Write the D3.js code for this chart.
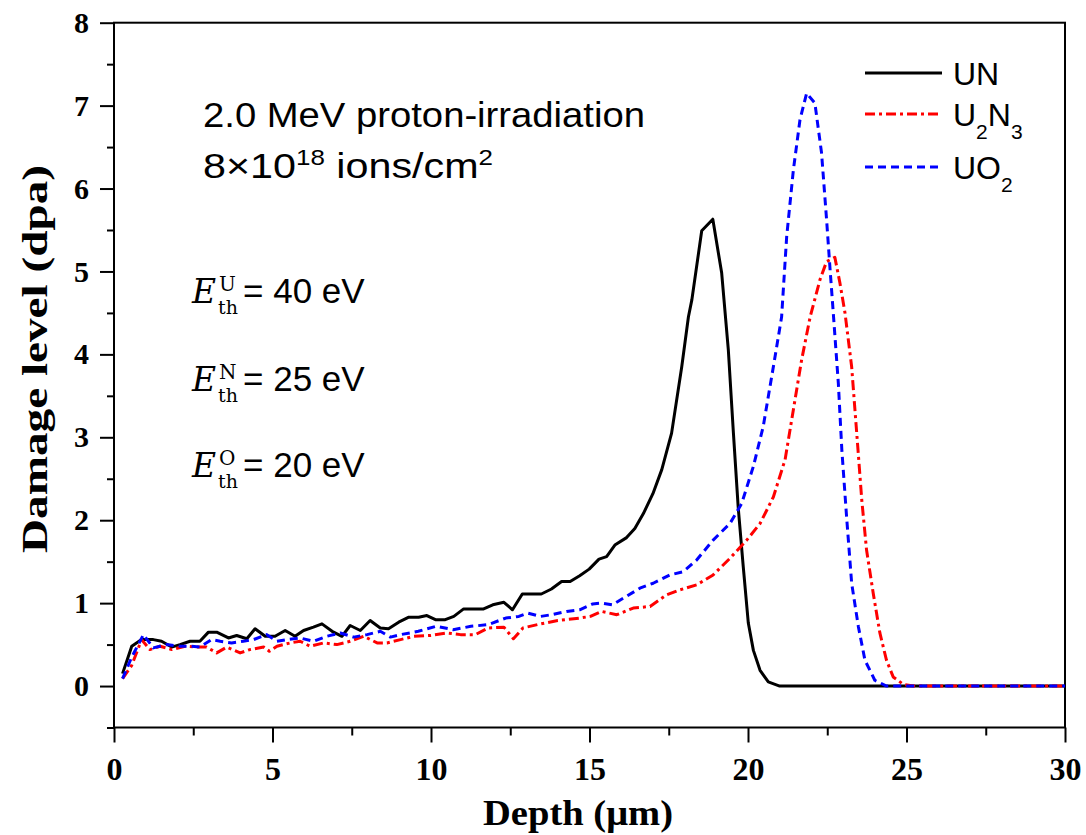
<html lang="en">
<head>
<meta charset="utf-8">
<title>Damage level vs depth</title>
<script src="https://cdn.jsdelivr.net/npm/d3@7"></script>
<style>
  body { margin: 0; background: #fff; }
</style>
</head>
<body></body>
<script type="text/javascript">

/*********************************************************************/
// Data

var seriesNames = ["UN", "U2N3", "UO2"];

var depthUN = [0.27,0.56,0.87,1.24,1.5,1.82,2.08,2.4,2.71,2.98,3.24,3.61,3.87,4.19,4.45,4.77,5.08,5.4,5.71,5.98,
	6.29,6.56,6.88,7.19,7.45,7.77,8.08,8.4,8.66,8.98,9.3,9.61,9.87,10.14,10.45,10.72,11.03,11.35,11.66,11.95,
	12.3,12.57,12.88,13.18,13.48,13.8,14.12,14.39,14.69,14.99,15.3,15.54,15.8,16.17,16.43,16.7,17.0,17.28,17.59,17.91,
	18.12,18.23,18.54,18.89,19.17,19.38,19.54,19.69,19.85,20.01,20.17,20.38,20.64,21.0,30];
var dpaUN = [0.15,0.48,0.56,0.56,0.54,0.47,0.5,0.54,0.54,0.65,0.65,0.58,0.61,0.57,0.69,0.6,0.6,0.67,0.6,0.67,
	0.71,0.75,0.66,0.6,0.73,0.67,0.79,0.7,0.69,0.77,0.83,0.83,0.85,0.8,0.8,0.84,0.93,0.93,0.93,0.98,
	1.01,0.92,1.11,1.11,1.11,1.17,1.26,1.26,1.33,1.41,1.53,1.56,1.70,1.79,1.90,2.08,2.32,2.61,3.05,3.85,
	4.45,4.66,5.49,5.63,4.98,4.05,3.05,2.16,1.44,0.76,0.43,0.19,0.05,0.0,0.0];

var depthU2N3 = [0.27,0.56,0.87,1.13,1.45,1.82,2.24,2.61,2.92,3.24,3.56,3.98,4.29,4.72,4.9,5.14,5.56,5.87,6.19,6.61,
	7.03,7.45,7.88,8.3,8.61,9.04,9.46,9.98,10.5,10.93,11.4,11.8,12.3,12.6,12.9,13.46,14.0,14.69,15.03,15.38,
	15.86,16.38,16.91,17.43,17.85,18.38,18.9,19.43,19.96,20.38,20.8,21.17,21.43,21.69,21.96,22.27,22.48,22.74,22.9,23.06,
	23.27,23.43,23.59,23.74,23.95,24.16,24.37,24.58,24.9,25.22,30];
var dpaU2N3 = [0.09,0.25,0.56,0.44,0.48,0.44,0.48,0.47,0.47,0.4,0.47,0.4,0.44,0.47,0.42,0.48,0.52,0.54,0.48,0.52,
	0.5,0.54,0.6,0.52,0.52,0.56,0.6,0.61,0.64,0.62,0.62,0.7,0.71,0.57,0.7,0.75,0.79,0.82,0.84,0.9,
	0.86,0.94,0.96,1.1,1.16,1.22,1.34,1.54,1.76,1.96,2.28,2.73,3.33,3.93,4.45,4.9,5.12,5.17,4.86,4.5,
	3.85,3.05,2.24,1.64,1.12,0.64,0.31,0.11,0.02,0.0,0.0];

var depthUO2 = [0.27,0.56,0.93,1.24,1.66,2.08,2.4,2.71,3.08,3.35,3.71,4.08,4.4,4.82,5.14,5.45,5.87,6.29,6.71,7.14,
	7.56,7.98,8.4,8.72,9.04,9.6,10.16,10.7,11.26,11.8,12.36,12.77,13.05,13.46,13.8,14.28,14.69,15.1,15.38,15.72,
	16.07,16.59,17.01,17.54,17.96,18.38,18.9,19.43,19.8,20.17,20.48,20.8,21.06,21.22,21.43,21.64,21.85,22.11,22.32,22.48,
	22.59,22.69,22.85,22.96,23.11,23.27,23.48,23.69,24.0,24.37,30];
var dpaUO2 = [0.09,0.35,0.62,0.46,0.5,0.48,0.48,0.47,0.56,0.54,0.52,0.54,0.56,0.62,0.54,0.56,0.58,0.54,0.6,0.64,
	0.59,0.62,0.66,0.59,0.62,0.66,0.72,0.68,0.72,0.74,0.82,0.84,0.88,0.84,0.86,0.9,0.92,0.99,1.0,0.98,
	1.06,1.18,1.24,1.34,1.38,1.52,1.76,1.96,2.2,2.65,3.13,3.85,4.45,5.42,6.22,6.83,7.15,7.03,6.43,5.62,
	5.02,4.5,3.65,2.85,2.04,1.24,0.72,0.31,0.07,0.0,0.0];

var xTicks = [0, 5, 10, 15, 20, 25, 30];
var yTicks = [0, 1, 2, 3, 4, 5, 6, 7, 8];
var xMinor = [2.5, 7.5, 12.5, 17.5, 22.5, 27.5];
var yMinor = [-0.5, 0.5, 1.5, 2.5, 3.5, 4.5, 5.5, 6.5, 7.5];

var eAtoms = ["U", "N", "O"];
var eThresholds = [40, 25, 20];

/*********************************************************************/
// Canvas

var width = 1086, height = 835;
var svg = d3.select("body").append("svg")
	.attr("width", width)
	.attr("height", height);

var x = d3.scaleLinear().domain([0, 30]).range([114, 1065]);
var y = d3.scaleLinear().domain([-0.5, 8]).range([727.5, 22.7]);

var serif = "'Liberation Serif','Times New Roman',serif";
var sans = "'Liberation Sans',Arial,Helvetica,sans-serif";

/*********************************************************************/
// Axes

function styleAxis(g){
	g.select(".domain").remove();
	g.selectAll("line").attr("stroke", "#000").attr("stroke-width", 2);
	g.selectAll("text").attr("font-family", serif).attr("font-weight", "bold").attr("fill", "#000");
}

svg.append("g")
	.attr("transform", "translate(0," + y(-0.5) + ")")
	.call(d3.axisBottom(x).tickValues(xTicks).tickFormat(d3.format("d")).tickSize(15).tickPadding(15))
	.call(styleAxis)
	.selectAll("text").attr("font-size", 32);

svg.append("g")
	.attr("transform", "translate(0," + y(-0.5) + ")")
	.call(d3.axisBottom(x).tickValues(xMinor).tickFormat("").tickSize(8))
	.call(styleAxis);

svg.append("g")
	.attr("transform", "translate(" + x(0) + ",0)")
	.call(d3.axisLeft(y).tickValues(yTicks).tickFormat(d3.format("d")).tickSize(14).tickPadding(11))
	.call(styleAxis)
	.selectAll("text").attr("font-size", 30);

svg.append("g")
	.attr("transform", "translate(" + x(0) + ",0)")
	.call(d3.axisLeft(y).tickValues(yMinor).tickFormat("").tickSize(7))
	.call(styleAxis);

// the minor axes have empty labels, drop them
svg.selectAll(".tick text").filter(function(){ return this.textContent === ""; }).remove();

// frame
svg.append("rect")
	.attr("x", x(0))
	.attr("y", y(8))
	.attr("width", x(30) - x(0))
	.attr("height", y(-0.5) - y(8))
	.attr("fill", "none")
	.attr("stroke", "#000")
	.attr("stroke-width", 2);

// axis titles
svg.append("text")
	.attr("x", 578)
	.attr("y", 825)
	.attr("text-anchor", "middle")
	.attr("font-family", serif)
	.attr("font-weight", "bold")
	.attr("font-size", 35)
	.attr("textLength", 190)
	.attr("lengthAdjust", "spacingAndGlyphs")
	.text("Depth (\u03bcm)");

svg.append("text")
	.attr("transform", "translate(47,359) rotate(-90)")
	.attr("text-anchor", "middle")
	.attr("font-family", serif)
	.attr("font-weight", "bold")
	.attr("font-size", 36)
	.attr("textLength", 388)
	.attr("lengthAdjust", "spacingAndGlyphs")
	.text("Damage level (dpa)");

/*********************************************************************/
// Curves

var line = d3.line()
	.x(function(d){ return x(d[0]); })
	.y(function(d){ return y(d[1]); });

var series = [
	{name: "UN", depth: depthUN, dpa: dpaUN, color: "#000000", dash: null},
	{name: "U2N3", depth: depthU2N3, dpa: dpaU2N3, color: "#ff0000", dash: "10,4,3,4"},
	{name: "UO2", depth: depthUO2, dpa: dpaUO2, color: "#0000ff", dash: "8,5"}
];

series.forEach(function(s){
	svg.append("path")
		.attr("d", line(d3.zip(s.depth, s.dpa)))
		.attr("fill", "none")
		.attr("stroke", s.color)
		.attr("stroke-width", 3)
		.attr("stroke-linejoin", "round")
		.attr("stroke-dasharray", s.dash);
});

/*********************************************************************/
// Legend

var legendY = [73, 114, 167];
var legend = svg.append("g").attr("font-family", sans).attr("font-size", 32);

series.forEach(function(s, i){
	legend.append("line")
		.attr("x1", 865).attr("x2", 942)
		.attr("y1", legendY[i]).attr("y2", legendY[i])
		.attr("stroke", s.color)
		.attr("stroke-width", 3)
		.attr("stroke-dasharray", s.dash);

	var t = legend.append("text")
		.attr("x", 953)
		.attr("y", legendY[i] + 12);
	// digits in the formula are subscripts
	var low = false;
	s.name.split("").forEach(function(ch){
		var isDigit = /[0-9]/.test(ch);
		var ts = t.append("tspan").text(ch);
		if(isDigit && !low){ ts.attr("dy", 13); low = true; }
		if(!isDigit && low){ ts.attr("dy", -13); low = false; }
		if(isDigit) ts.attr("font-size", 21);
	});
});

/*********************************************************************/
// Annotations

svg.append("text")
	.attr("x", 203).attr("y", 127)
	.attr("font-family", sans).attr("font-size", 35)
	.attr("textLength", 442)
	.attr("lengthAdjust", "spacingAndGlyphs")
	.text("2.0 MeV proton-irradiation");

var note2 = svg.append("text")
	.attr("x", 203).attr("y", 178)
	.attr("font-family", sans).attr("font-size", 35)
	.attr("textLength", 290)
	.attr("lengthAdjust", "spacingAndGlyphs");
note2.append("tspan").text("8\u00d710");
note2.append("tspan").attr("font-size", 22).attr("dy", -13).text("18");
note2.append("tspan").attr("dy", 13).text(" ions/cm");
note2.append("tspan").attr("font-size", 22).attr("dy", -13).text("2");

var eBase = [303, 391, 477];
eAtoms.forEach(function(atom, i){
	var g = svg.append("g").attr("transform", "translate(192," + eBase[i] + ")");
	g.append("text")
		.attr("font-family", "'DejaVu Serif',serif")
		.attr("font-style", "italic")
		.attr("font-size", 33)
		.text("E");
	g.append("text")
		.attr("x", 27).attr("y", -12)
		.attr("font-family", "'DejaVu Serif',serif")
		.attr("font-size", 20)
		.text(atom);
	g.append("text")
		.attr("x", 26).attr("y", 11)
		.attr("font-family", "'DejaVu Serif',serif")
		.attr("font-size", 19)
		.text("th");
	g.append("text")
		.attr("x", 51)
		.attr("font-family", sans)
		.attr("font-size", 35)
		.text("= " + eThresholds[i] + " eV");
});

</script>
</html>
